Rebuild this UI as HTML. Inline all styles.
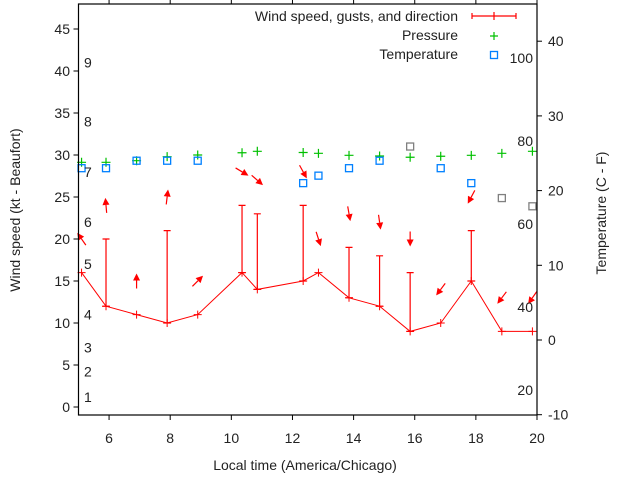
<!DOCTYPE html>
<html><head><meta charset="utf-8"><style>
html,body{margin:0;padding:0;background:#fff;}
svg{display:block;font-family:"Liberation Sans",sans-serif;}
</style></head><body>
<svg id="chart" width="640" height="480" viewBox="0 0 640 480" xmlns="http://www.w3.org/2000/svg">
<rect x="0" y="0" width="640" height="480" fill="#fff"/>
<g id="grid"></g>
<g id="series"></g>
<g id="axes"></g>
</svg>
<script>
const times=[5.1,5.9,6.9,7.9,8.9,10.35,10.85,12.35,12.85,13.85,14.85,15.85,16.85,17.85,18.85,19.85];
const windSpeed=[16,12,11,10,11,16,14,15,16,13,12,9,10,15,9,9];
const gustTimes=[5.9,7.9,10.35,10.85,12.35,13.85,14.85,15.85,17.85];
const gustLow=[12,10,16,14,15,13,12,9,15];
const gustHigh=[20,21,24,23,24,19,18,16,21];
const arrowLevel=[20,24,15,25,15,28,27,28,20,23,22,20,14,25,13,13];
const arrowDir=[325,355,0,7,45,121,131,151,162,170,172,180,217,208,217,215];
const pressure=[29.13,29.13,29.32,29.8,30.0,30.27,30.44,30.3,30.2,29.96,29.88,29.73,29.85,29.96,30.2,30.44];
const tempTimes=[5.1,5.9,6.9,7.9,8.9,12.35,12.85,13.85,14.85,15.85,16.85,17.85,18.85,19.85];
const tempC=[23,23,24,24,24,21,22,23,24,25.9,23,21,19,17.9];
const tempGray=[0,0,0,0,0,0,0,0,0,1,0,0,1,1];
const xTicks=[6,8,10,12,14,16,18,20];
const yTicks=[0,5,10,15,20,25,30,35,40,45];
const y2Ticks=[-10,0,10,20,30,40];
const fTicks=[20,40,60,80,100];
const beaufortLabels=['1','2','3','4','5','6','7','8','9'];
const beaufortPos=[1.2,4.2,7.1,11,17,22,28,34,41];

const L=78.5,R=537,T=4,B=415;
const X=t=>L+(t-5)*(R-L)/15;
const Y=v=>407-v*8.4;
const Y2=c=>340-c*7.47;
const NS='http://www.w3.org/2000/svg';
function mk(tag,attrs,parent,text){const e=document.createElementNS(NS,tag);for(const k in attrs)e.setAttribute(k,attrs[k]);if(text!==undefined)e.textContent=text;parent.appendChild(e);return e;}
const axes=document.getElementById('axes'),ser=document.getElementById('series');

// frame
let f=mk('rect',{x:L,y:T,width:R-L,height:B-T,fill:'none',stroke:'#000','stroke-width':1.2},axes);


xTicks.forEach(t=>{
  mk('line',{x1:X(t),x2:X(t),y1:B,y2:B+5,stroke:'#000'},axes);
  mk('line',{x1:X(t),x2:X(t),y1:T,y2:T-5,stroke:'#000'},axes);
  const e=mk('text',{x:X(t),y:443,'text-anchor':'middle','font-size':14,fill:'#222'},axes,String(t));
  
  
});
yTicks.forEach(v=>{
  mk('line',{x1:L-5,x2:L,y1:Y(v),y2:Y(v),stroke:'#000'},axes);
  const e=mk('text',{x:70,y:Y(v)+5,'text-anchor':'end','font-size':14,fill:'#222'},axes,String(v));
  
  
});
y2Ticks.forEach(v=>{
  mk('line',{x1:R,x2:R+5,y1:Y2(v),y2:Y2(v),stroke:'#000'},axes);
  const e=mk('text',{x:548,y:Y2(v)+5,'text-anchor':'start','font-size':14,fill:'#222'},axes,String(v));
  
  
});
fTicks.forEach(v=>{
  const e=mk('text',{x:533,y:Y2((v-32)*5/9)+5,'text-anchor':'end','font-size':14,fill:'#222'},axes,String(v));
  
  
});
beaufortLabels.forEach((s,i)=>{
  const e=mk('text',{x:84,y:Y(beaufortPos[i])+5,'font-size':14,fill:'#222'},axes,s);
  
  
});
let e;
e=mk('text',{x:305,y:470,'text-anchor':'middle','font-size':14,fill:'#222'},axes,'Local time (America/Chicago)');


e=mk('text',{x:0,y:0,'text-anchor':'middle','font-size':14,fill:'#222',transform:'translate(20,210) rotate(-90)'},axes,'Wind speed (kt - Beaufort)');


e=mk('text',{x:0,y:0,'text-anchor':'middle','font-size':14,fill:'#222',transform:'translate(606,213) rotate(-90)'},axes,'Temperature (C - F)');



// wind line
e=mk('polyline',{points:times.map((t,i)=>X(t)+','+Y(windSpeed[i])).join(' '),fill:'none',stroke:'#f00','stroke-width':1},ser);


times.forEach((t,i)=>{
  const x=X(t),y=Y(windSpeed[i]);
  const g=mk('path',{d:`M${x-4},${y}H${x+4}M${x},${y-4}V${y+4}`,stroke:'#f00','stroke-width':1},ser);
  
  
});
gustTimes.forEach((t,i)=>{
  const x=X(t),y1=Y(gustLow[i]),y2=Y(gustHigh[i]);
  const g=mk('path',{d:`M${x},${y1}V${y2}M${x-3.5},${y2}H${x+3.5}M${x-3.5},${y1}H${x+3.5}`,stroke:'#f00','stroke-width':1.2},ser);
  
  
});
times.forEach((t,i)=>{
  const a=arrowDir[i]*Math.PI/180,len=15;
  const cx=X(t),cy=Y(arrowLevel[i]);
  const ux=Math.sin(a),uy=-Math.cos(a);
  const tx=cx-ux*len/2,ty=cy-uy*len/2,hx=cx+ux*len/2,hy=cy+uy*len/2;
  const bx=hx-ux*7,by=hy-uy*7,px=-uy,py=ux;
  const g=mk('g',{},ser);
  
  
  mk('line',{x1:tx,y1:ty,x2:bx,y2:by,stroke:'#f00','stroke-width':1.2},g);
  mk('polygon',{points:`${hx},${hy} ${bx+px*3.5},${by+py*3.5} ${bx-px*3.5},${by-py*3.5}`,fill:'#f00'},g);
});
times.forEach((t,i)=>{
  const x=X(t),y=Y(pressure[i]);
  const g=mk('path',{d:`M${x-4.5},${y}H${x+4.5}M${x},${y-4.5}V${y+4.5}`,stroke:'#00c000','stroke-width':1.2},ser);
  
  
});
tempTimes.forEach((t,i)=>{
  const x=X(t),y=Y2(tempC[i]);
  const g=mk('rect',{x:x-3.5,y:y-3.5,width:7,height:7,fill:'none',stroke:tempGray[i]?'#808080':'#0080ff','stroke-width':1.3},ser);
  
  
});

// legend
const lg=mk('g',{},axes);


const rows=['Wind speed, gusts, and direction','Pressure','Temperature'];
rows.forEach((s,i)=>{
  const t=mk('text',{x:458,y:21+i*19,'text-anchor':'end','font-size':14,fill:'#222'},lg,s);
  
  
});
mk('path',{d:'M472,16H516M472,13V19M516,13V19M494,12V20',stroke:'#f00','stroke-width':1.2},lg);
mk('path',{d:'M490,36H498M494,32V40',stroke:'#00c000','stroke-width':1.2},lg);
mk('rect',{x:490.5,y:51.5,width:7,height:7,fill:'none',stroke:'#0080ff','stroke-width':1.3},lg);
</script>
</body></html>
